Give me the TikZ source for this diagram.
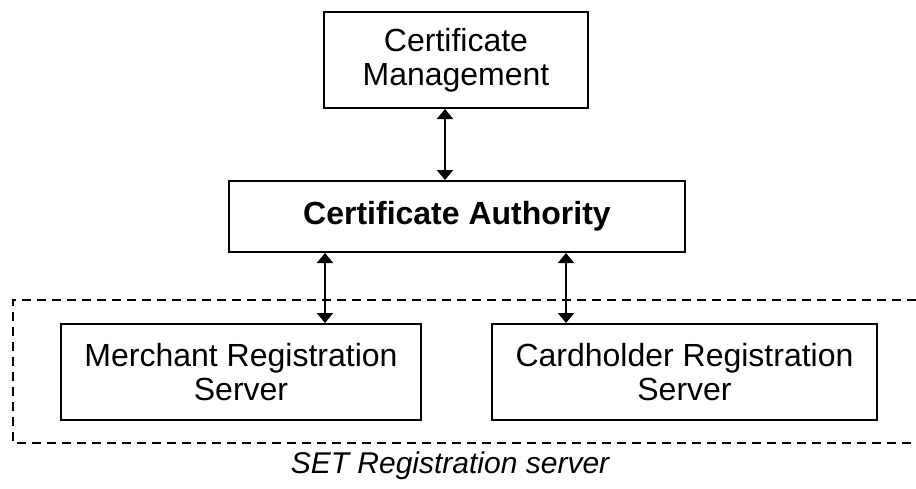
\documentclass[tikz,border=0pt]{standalone}
\usepackage{fontspec}
\setmainfont{Liberation Sans}
\usetikzlibrary{arrows.meta}

\tikzset{
  box/.style={draw=black, line width=1pt, align=center, inner sep=0pt,
    font=\fontsize{16}{17}\selectfont},
  dbl/.style={line width=1pt, {Triangle[width=8pt,length=5pt]}-{Triangle[width=8pt,length=5pt]}},
  setframe/.style={line width=0.8pt, dash pattern=on 4.5pt off 3pt}
}

\begin{document}
\begin{tikzpicture}[x=0.5pt, y=-0.5pt]
\useasboundingbox (0,0) rectangle (916,488);

\node[box, minimum width=132pt, minimum height=48pt] (cm) at (456,60) {Certificate\\Management};
\node[box, minimum width=228pt, minimum height=35.5pt, font=\fontsize{16}{17}\selectfont\bfseries] (ca) at (457,216.5) {Certificate Authority};

\node[box, minimum width=180pt, minimum height=48pt] (mrs) at (241,372) {Merchant Registration\\Server};
\node[box, minimum width=192.5pt, minimum height=48pt] (crs) at (684.5,372) {Cardholder Registration\\Server};

% registration server frame, open on the right
\draw[setframe] (916,300) -- (13,300) -- (13,443) -- (916,443);
\node[font=\fontsize{15}{16}\selectfont\itshape] (setlbl) at (450,466) {SET Registration server};

\draw[dbl] ([xshift=-5.5pt]cm.south) -- ([xshift=-5.5pt]cm.south |- ca.north);
\draw[dbl] ([xshift=42pt]mrs.north |- ca.south) -- ([xshift=42pt]mrs.north);
\draw[dbl] ([xshift=-59.25pt]crs.north |- ca.south) -- ([xshift=-59.25pt]crs.north);
\end{tikzpicture}
\end{document}
